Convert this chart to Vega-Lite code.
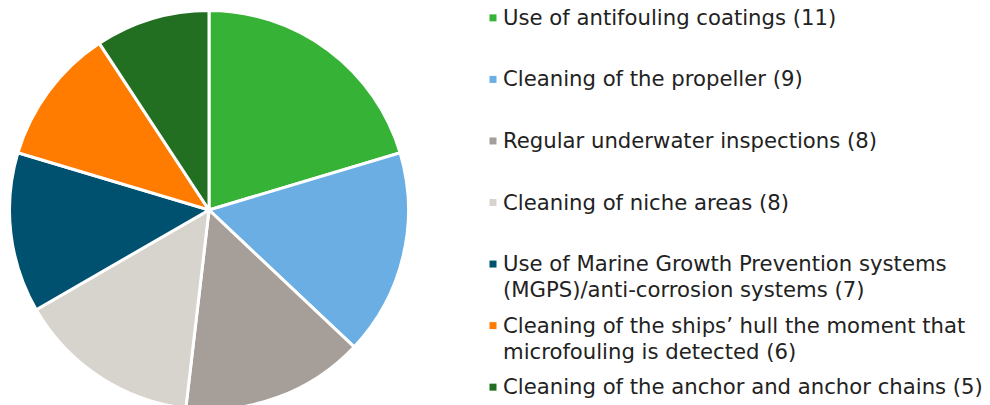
{
  "$schema": "https://vega.github.io/schema/vega-lite/v6.json",
  "padding": 0,
  "spacing": 71,
  "config": {"view": {"stroke": null}, "font": "DejaVu Sans"},
  "data": {"values": [
    {"cat": "Use of antifouling coatings", "label": "Use of antifouling coatings (11)", "count": 11, "order": 1},
    {"cat": "Cleaning of the propeller", "label": "Cleaning of the propeller (9)", "count": 9, "order": 2},
    {"cat": "Regular underwater inspections", "label": "Regular underwater inspections (8)", "count": 8, "order": 3},
    {"cat": "Cleaning of niche areas", "label": "Cleaning of niche areas (8)", "count": 8, "order": 4},
    {"cat": "Use of MGPS/anti-corrosion systems", "label": "Use of Marine Growth Prevention systems\n(MGPS)/anti-corrosion systems (7)", "count": 7, "order": 5},
    {"cat": "Cleaning of the ships' hull", "label": "Cleaning of the ships’ hull the moment that\nmicrofouling is detected (6)", "count": 6, "order": 6},
    {"cat": "Cleaning of the anchor and anchor chains", "label": "Cleaning of the anchor and anchor chains (5)", "count": 5, "order": 7}
  ]},
  "hconcat": [
    {
      "width": 418,
      "height": 420,
      "mark": {"type": "arc", "outerRadius": 199.5, "stroke": "white", "strokeWidth": 3},
      "encoding": {
        "theta": {"field": "count", "type": "quantitative", "stack": true},
        "order": {"field": "order", "type": "quantitative"},
        "color": {
          "field": "cat", "type": "nominal", "legend": null,
          "scale": {
            "domain": ["Use of antifouling coatings", "Cleaning of the propeller", "Regular underwater inspections", "Cleaning of niche areas", "Use of MGPS/anti-corrosion systems", "Cleaning of the ships' hull", "Cleaning of the anchor and anchor chains"],
            "range": ["#36B236", "#6BAEE3", "#A69E98", "#D6D4CD", "#00506F", "#FF7C00", "#226F22"]
          }
        }
      }
    },
    {
      "width": 2,
      "height": 405,
      "encoding": {
        "y": {"field": "cat", "type": "nominal", "sort": {"field": "order"}, "axis": null, "scale": {"type": "point", "padding": 0.29}}
      },
      "layer": [
        {
          "mark": {"type": "square", "size": 49, "opacity": 1, "filled": true},
          "encoding": {
            "color": {
              "field": "cat", "type": "nominal", "legend": null,
              "scale": {
                "domain": ["Use of antifouling coatings", "Cleaning of the propeller", "Regular underwater inspections", "Cleaning of niche areas", "Use of MGPS/anti-corrosion systems", "Cleaning of the ships' hull", "Cleaning of the anchor and anchor chains"],
                "range": ["#36B236", "#6BAEE3", "#A69E98", "#D6D4CD", "#00506F", "#FF7C00", "#226F22"]
              }
            }
          }
        },
        {
          "mark": {"type": "text", "align": "left", "baseline": "top", "dx": 10, "dy": -10, "fontSize": 21.2, "lineHeight": 26, "lineBreak": "\n", "color": "#222222"},
          "encoding": {"text": {"field": "label"}}
        }
      ]
    }
  ]
}
